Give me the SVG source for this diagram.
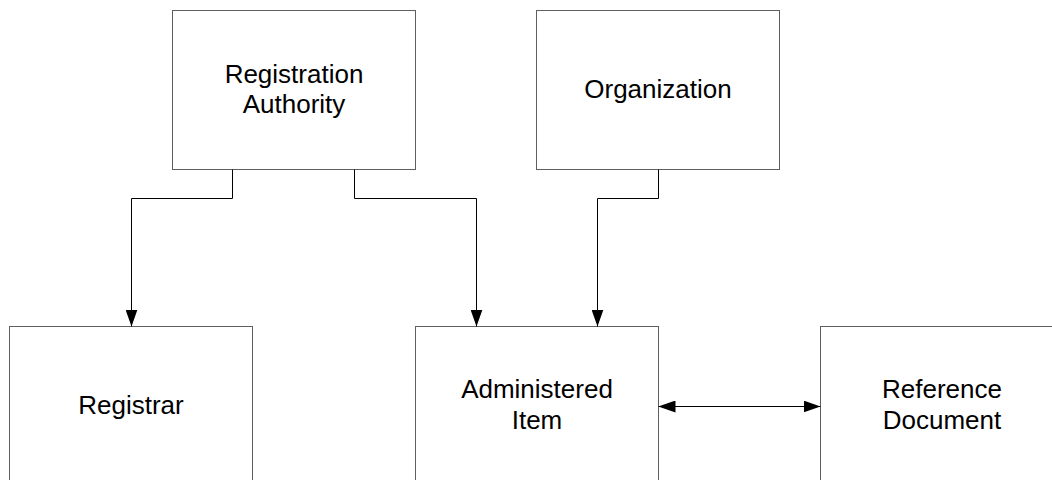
<svg xmlns="http://www.w3.org/2000/svg" width="1052" height="480" viewBox="0 0 1052 480">
  <style>
    .box { fill: #ffffff; stroke: #5f5f5f; stroke-width: 1; }
    .lbl { font-family: "Liberation Sans", Arial, sans-serif; font-size: 26px; fill: #000000; text-anchor: middle; }
    .conn { fill: none; stroke: #000000; stroke-width: 1; }
  </style>
  <defs>
    <marker id="arrow" viewBox="0 0 17 12" refX="17" refY="6" markerWidth="17" markerHeight="12" markerUnits="userSpaceOnUse" orient="auto-start-reverse">
      <path d="M0,0 L17,6 L0,12 z" fill="#000000"/>
    </marker>
  </defs>
  <rect x="0" y="0" width="1052" height="480" fill="#ffffff"/>

  <g id="registration-authority">
    <rect class="box" x="172.5" y="10.5" width="243" height="159"/>
    <text class="lbl" x="294" y="83">Registration</text>
    <text class="lbl" x="294" y="113">Authority</text>
  </g>
  <g id="organization">
    <rect class="box" x="536.5" y="10.5" width="243" height="159"/>
    <text class="lbl" x="658" y="98">Organization</text>
  </g>
  <g id="registrar">
    <rect class="box" x="9.5" y="326.5" width="243" height="159"/>
    <text class="lbl" x="131" y="414">Registrar</text>
  </g>
  <g id="administered-item">
    <rect class="box" x="415.5" y="326.5" width="243" height="159"/>
    <text class="lbl" x="537" y="398">Administered</text>
    <text class="lbl" x="537" y="429">Item</text>
  </g>
  <g id="reference-document">
    <rect class="box" x="820.5" y="326.5" width="243" height="159"/>
    <text class="lbl" x="942" y="398">Reference</text>
    <text class="lbl" x="942" y="429">Document</text>
  </g>

  <g id="connectors">
    <path class="conn" d="M232.5,169.5 V198.5 H131.5 V326.5" marker-end="url(#arrow)"/>
    <path class="conn" d="M354.5,169.5 V198.5 H476.5 V326.5" marker-end="url(#arrow)"/>
    <path class="conn" d="M658.5,169.5 V198.5 H597.5 V326.5" marker-end="url(#arrow)"/>
    <path class="conn" d="M658.5,406.5 H820.5" marker-start="url(#arrow)" marker-end="url(#arrow)"/>
  </g>
</svg>
